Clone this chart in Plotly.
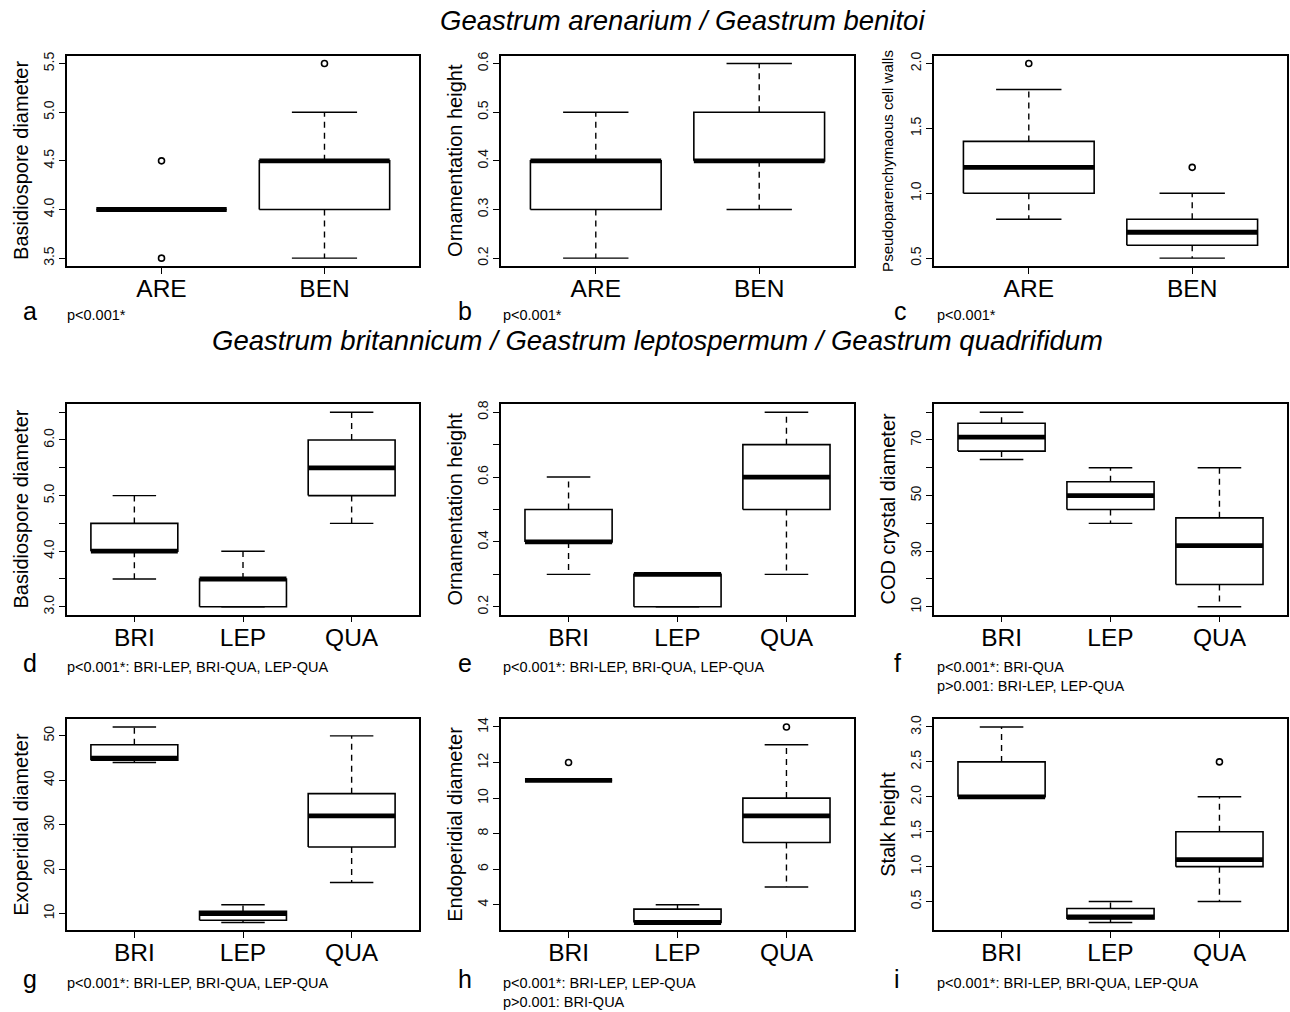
import plotly.graph_objects as go

# ---------------- data ----------------
groups_2 = ["ARE", "BEN"]
groups_3 = ["BRI", "LEP", "QUA"]

# a: Basidiospore diameter (ARE / BEN)
a_low = [4.0, 3.5]
a_q1 = [4.0, 4.0]
a_med = [4.0, 4.5]
a_q3 = [4.0, 4.5]
a_high = [4.0, 5.0]
a_out = [[3.5, 4.5], [5.5]]
a_ticks = [3.5, 4.0, 4.5, 5.0, 5.5]
a_ticklabels = ["3.5", "4.0", "4.5", "5.0", "5.5"]

# b: Ornamentation height (ARE / BEN)
b_low = [0.2, 0.3]
b_q1 = [0.3, 0.4]
b_med = [0.4, 0.4]
b_q3 = [0.4, 0.5]
b_high = [0.5, 0.6]
b_out = [[], []]
b_ticks = [0.2, 0.3, 0.4, 0.5, 0.6]
b_ticklabels = ["0.2", "0.3", "0.4", "0.5", "0.6"]

# c: Pseudoparenchymaous cell walls (ARE / BEN)
c_low = [0.8, 0.5]
c_q1 = [1.0, 0.6]
c_med = [1.2, 0.7]
c_q3 = [1.4, 0.8]
c_high = [1.8, 1.0]
c_out = [[2.0], [1.2]]
c_ticks = [0.5, 1.0, 1.5, 2.0]
c_ticklabels = ["0.5", "1.0", "1.5", "2.0"]

# d: Basidiospore diameter (BRI / LEP / QUA)
d_low = [3.5, 3.0, 4.5]
d_q1 = [4.0, 3.0, 5.0]
d_med = [4.0, 3.5, 5.5]
d_q3 = [4.5, 3.5, 6.0]
d_high = [5.0, 4.0, 6.5]
d_out = [[], [], []]
d_ticks = [3.0, 3.5, 4.0, 4.5, 5.0, 5.5, 6.0, 6.5]
d_ticklabels = ["3.0", "", "4.0", "", "5.0", "", "6.0", ""]

# e: Ornamentation height (BRI / LEP / QUA)
e_low = [0.3, 0.2, 0.3]
e_q1 = [0.4, 0.2, 0.5]
e_med = [0.4, 0.3, 0.6]
e_q3 = [0.5, 0.3, 0.7]
e_high = [0.6, 0.3, 0.8]
e_out = [[], [], []]
e_ticks = [0.2, 0.3, 0.4, 0.5, 0.6, 0.7, 0.8]
e_ticklabels = ["0.2", "", "0.4", "", "0.6", "", "0.8"]

# f: COD crystal diameter (BRI / LEP / QUA)
f_low = [63, 40, 10]
f_q1 = [66, 45, 18]
f_med = [71, 50, 32]
f_q3 = [76, 55, 42]
f_high = [80, 60, 60]
f_out = [[], [], []]
f_ticks = [10, 20, 30, 40, 50, 60, 70, 80]
f_ticklabels = ["10", "", "30", "", "50", "", "70", ""]

# g: Exoperidial diameter (BRI / LEP / QUA)
g_low = [44, 8, 17]
g_q1 = [44.5, 8.5, 25]
g_med = [45, 10, 32]
g_q3 = [48, 10.5, 37]
g_high = [52, 12, 50]
g_out = [[], [], []]
g_ticks = [10, 20, 30, 40, 50]
g_ticklabels = ["10", "20", "30", "40", "50"]

# h: Endoperidial diameter (BRI / LEP / QUA)
h_low = [11, 3, 5]
h_q1 = [11, 3, 7.5]
h_med = [11, 3, 9]
h_q3 = [11, 3.75, 10]
h_high = [11, 4, 13]
h_out = [[12], [], [14]]
h_ticks = [4, 6, 8, 10, 12, 14]
h_ticklabels = ["4", "6", "8", "10", "12", "14"]

# i: Stalk height (BRI / LEP / QUA)
i_low = [2.0, 0.2, 0.5]
i_q1 = [2.0, 0.25, 1.0]
i_med = [2.0, 0.28, 1.1]
i_q3 = [2.5, 0.4, 1.5]
i_high = [3.0, 0.5, 2.0]
i_out = [[], [], [2.5]]
i_ticks = [0.5, 1.0, 1.5, 2.0, 2.5, 3.0]
i_ticklabels = ["0.5", "1.0", "1.5", "2.0", "2.5", "3.0"]

titles = ["Geastrum arenarium / Geastrum benitoi",
          "Geastrum britannicum / Geastrum leptospermum / Geastrum quadrifidum"]

ylabels = ["Basidiospore diameter", "Ornamentation height", "Pseudoparenchymaous cell walls",
           "Basidiospore diameter", "Ornamentation height", "COD crystal diameter",
           "Exoperidial diameter", "Endoperidial diameter", "Stalk height"]
letters = ["a", "b", "c", "d", "e", "f", "g", "h", "i"]
ptexts = [["p<0.001*"], ["p<0.001*"], ["p<0.001*"],
          ["p<0.001*: BRI-LEP, BRI-QUA, LEP-QUA"], ["p<0.001*: BRI-LEP, BRI-QUA, LEP-QUA"],
          ["p<0.001*: BRI-QUA", "p>0.001: BRI-LEP, LEP-QUA"],
          ["p<0.001*: BRI-LEP, BRI-QUA, LEP-QUA"],
          ["p<0.001*: BRI-LEP, LEP-QUA", "p>0.001: BRI-QUA"],
          ["p<0.001*: BRI-LEP, BRI-QUA, LEP-QUA"]]

panels = [
    (groups_2, a_low, a_q1, a_med, a_q3, a_high, a_out, a_ticks, a_ticklabels),
    (groups_2, b_low, b_q1, b_med, b_q3, b_high, b_out, b_ticks, b_ticklabels),
    (groups_2, c_low, c_q1, c_med, c_q3, c_high, c_out, c_ticks, c_ticklabels),
    (groups_3, d_low, d_q1, d_med, d_q3, d_high, d_out, d_ticks, d_ticklabels),
    (groups_3, e_low, e_q1, e_med, e_q3, e_high, e_out, e_ticks, e_ticklabels),
    (groups_3, f_low, f_q1, f_med, f_q3, f_high, f_out, f_ticks, f_ticklabels),
    (groups_3, g_low, g_q1, g_med, g_q3, g_high, g_out, g_ticks, g_ticklabels),
    (groups_3, h_low, h_q1, h_med, h_q3, h_high, h_out, h_ticks, h_ticklabels),
    (groups_3, i_low, i_q1, i_med, i_q3, i_high, i_out, i_ticks, i_ticklabels),
]

# ---------------- layout geometry (pixels) ----------------
W, H = 1290, 1012
col_px = [(67, 419), (501, 854), (934, 1287)]
row_px = [(52, 263), (402, 613), (718, 930)]
letter_x = [21, 456, 892]
ptext_x = [65, 501, 935]
row_text_y = [312, 666, 983]
FONT = "Liberation Sans, Arial, sans-serif"
BOXW = 0.4
CAPW = 0.2

fig = go.Figure()
annotations = []
layout_axes = {}

def px_x(p):
    return p / W

def px_y(p):
    return 1 - p / H

for k, (groups, low, q1, med, q3, high, out, ticks, ticklabels) in enumerate(panels):
    r, c = divmod(k, 3)
    n = k + 1
    xa = "x" if n == 1 else f"x{n}"
    ya = "y" if n == 1 else f"y{n}"
    xname = "xaxis" if n == 1 else f"xaxis{n}"
    yname = "yaxis" if n == 1 else f"yaxis{n}"
    centers = list(range(1, len(groups) + 1))

    # whiskers (dashed)
    wx, wy = [], []
    for cx, lo, a, b, hi in zip(centers, low, q1, q3, high):
        wx += [cx, cx, None, cx, cx, None]
        wy += [b, hi, None, a, lo, None]
    fig.add_trace(go.Scatter(x=wx, y=wy, mode="lines", xaxis=xa, yaxis=ya,
                             line=dict(color="black", width=1.4, dash="6px,5px"),
                             hoverinfo="skip", showlegend=False))
    # staples
    sx, sy = [], []
    for cx, lo, hi in zip(centers, low, high):
        sx += [cx - CAPW, cx + CAPW, None, cx - CAPW, cx + CAPW, None]
        sy += [hi, hi, None, lo, lo, None]
    fig.add_trace(go.Scatter(x=sx, y=sy, mode="lines", xaxis=xa, yaxis=ya,
                             line=dict(color="black", width=1.4),
                             hoverinfo="skip", showlegend=False))
    # boxes
    bx, by = [], []
    for cx, a, b in zip(centers, q1, q3):
        bx += [cx - BOXW, cx + BOXW, cx + BOXW, cx - BOXW, cx - BOXW, None]
        by += [a, a, b, b, a, None]
    fig.add_trace(go.Scatter(x=bx, y=by, mode="lines", xaxis=xa, yaxis=ya,
                             line=dict(color="black", width=1.6),
                             hoverinfo="skip", showlegend=False))
    # medians
    mx, my = [], []
    for cx, m in zip(centers, med):
        mx += [cx - BOXW, cx + BOXW, None]
        my += [m, m, None]
    fig.add_trace(go.Scatter(x=mx, y=my, mode="lines", xaxis=xa, yaxis=ya,
                             line=dict(color="black", width=4.8),
                             hoverinfo="skip", showlegend=False))
    # outliers
    ox, oy = [], []
    for cx, vals in zip(centers, out):
        for v in vals:
            ox.append(cx)
            oy.append(v)
    if ox:
        fig.add_trace(go.Scatter(x=ox, y=oy, mode="markers", xaxis=xa, yaxis=ya,
                                 marker=dict(symbol="circle-open", size=6, color="black",
                                             line=dict(width=1.6, color="black")),
                                 hoverinfo="skip", showlegend=False))

    # axis ranges like R (4% padding)
    allv = list(low) + list(high) + [v for vals in out for v in vals]
    lo_v, hi_v = min(allv), max(allv)
    pad = 0.04 * (hi_v - lo_v)
    ng = len(groups)
    xpad = 0.04 * ng

    x0, x1 = col_px[c]
    y0, y1 = row_px[r]
    layout_axes[xname] = dict(
        domain=[px_x(x0), px_x(x1)], anchor=ya,
        range=[0.5 - xpad, ng + 0.5 + xpad],
        tickvals=centers, ticktext=groups,
        ticks="outside", ticklen=6, tickwidth=1.4, tickcolor="black",
        ticklabelstandoff=-6,
        tickfont=dict(family=FONT, size=24.5, color="black"),
        showline=True, linecolor="black", linewidth=1.5, mirror=True,
        showgrid=False, zeroline=False, fixedrange=True,
    )
    layout_axes[yname] = dict(
        domain=[px_y(y1), px_y(y0)], anchor=xa,
        range=[lo_v - pad, hi_v + pad],
        tickvals=ticks, ticktext=ticklabels, tickangle=-90,
        ticks="outside", ticklen=6, tickwidth=1.4, tickcolor="black",
        tickfont=dict(family=FONT, size=14, color="#111"),
        showline=True, linecolor="black", linewidth=1.5, mirror=True,
        showgrid=False, zeroline=False, fixedrange=True,
    )

    # y-axis label
    ysize = 15 if k == 2 else 20
    annotations.append(dict(
        text=ylabels[k], x=px_x(x0 - 46), y=px_y((y0 + y1) / 2),
        xref="paper", yref="paper", xanchor="center", yanchor="middle",
        textangle=-90, showarrow=False,
        font=dict(family=FONT, size=ysize, color="black")))
    # panel letter
    annotations.append(dict(
        text=letters[k], x=px_x(letter_x[c]), y=px_y(row_text_y[r] - 4),
        xref="paper", yref="paper", xanchor="left", yanchor="middle",
        showarrow=False, font=dict(family=FONT, size=25, color="black")))
    # p-value texts
    for j, t in enumerate(ptexts[k]):
        annotations.append(dict(
            text=t, x=px_x(ptext_x[c]), y=px_y(row_text_y[r] + 19 * j),
            xref="paper", yref="paper", xanchor="left", yanchor="middle",
            showarrow=False, font=dict(family=FONT, size=14.5, color="black")))

# group titles
annotations.append(dict(
    text="<i>" + titles[0] + "</i>", x=px_x(682), y=px_y(17),
    xref="paper", yref="paper", xanchor="center", yanchor="middle",
    showarrow=False, font=dict(family=FONT, size=27.5, color="black")))
annotations.append(dict(
    text="<i>" + titles[1] + "</i>", x=px_x(657), y=px_y(338),
    xref="paper", yref="paper", xanchor="center", yanchor="middle",
    showarrow=False, font=dict(family=FONT, size=27.5, color="black")))

fig.update_layout(
    width=W, height=H,
    margin=dict(l=0, r=0, t=0, b=0),
    paper_bgcolor="white", plot_bgcolor="white",
    showlegend=False,
    annotations=annotations,
    **layout_axes,
)

fig.write_html(
    "out.html",
    config={"displayModeBar": False},
    post_script="document.body.style.margin='0px';document.body.style.overflow='hidden';",
)
